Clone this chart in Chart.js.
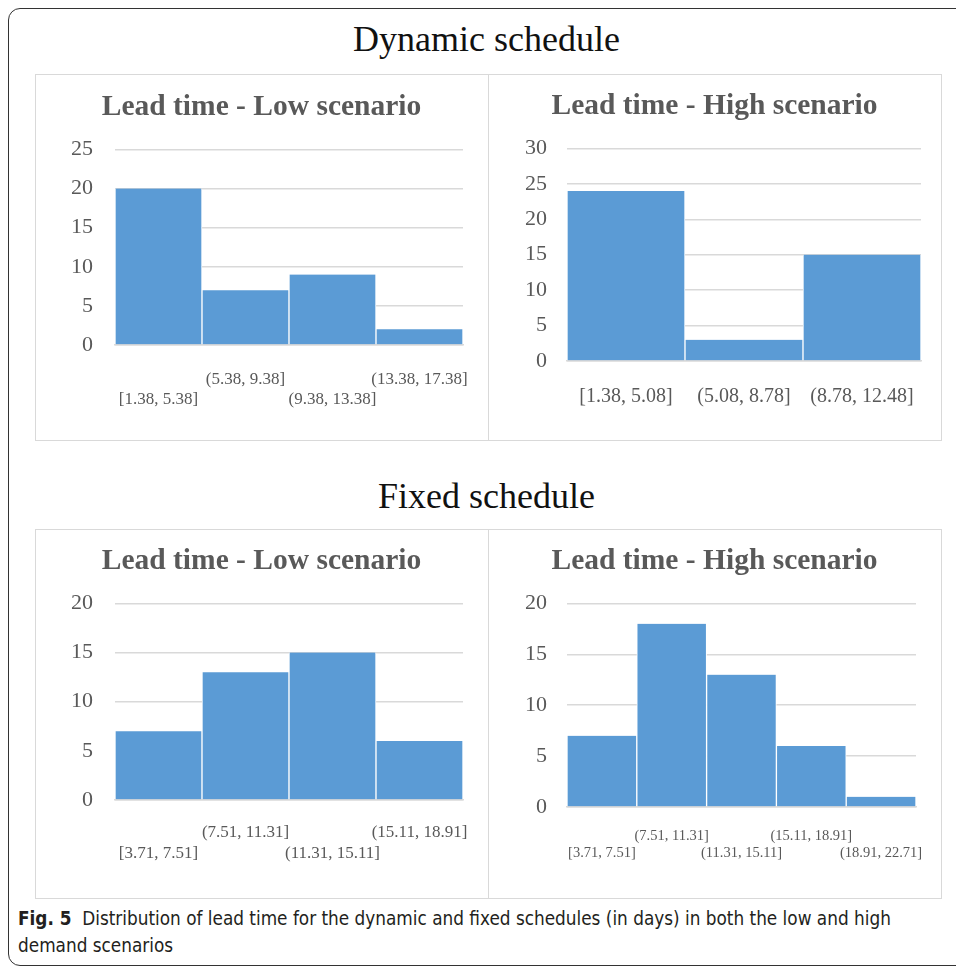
<!DOCTYPE html>
<html>
<head>
<meta charset="utf-8">
<script src="https://cdn.jsdelivr.net/npm/chart.js@4.4.1/dist/chart.umd.min.js"></script>
<style>
    body { margin: 0; background: #fff; width: 956px; height: 966px; overflow: hidden; position: relative; }
    #frame { position: absolute; left: 8px; top: 8px; width: 1000px; height: 956px; border: 1px solid #333; border-radius: 12px; }
    .heading { position: absolute; left: 0; width: 973px; text-align: center; font-family: 'Liberation Serif', serif; font-size: 36px; color: #111; line-height: 42px; }
    .row { position: absolute; left: 35px; width: 905px; border: 1.5px solid #d9d9d9; }
    .divider { position: absolute; left: 452px; top: 0; bottom: 0; border-left: 1.5px solid #d9d9d9; }
    canvas { position: absolute; }
    #caption { position: absolute; left: 18px; top: 905px; font-family: 'DejaVu Sans Condensed', 'DejaVu Sans', sans-serif; font-stretch: condensed; font-size: 18.8px; line-height: 27px; color: #231f20; white-space: nowrap; }
</style>
</head>
<body>
<div id="frame"></div>
<div class="heading" style="top: 18px;">Dynamic schedule</div>
<div class="row" style="top: 74px; height: 365px;"><div class="divider"></div></div>
<div class="heading" style="top: 475px;">Fixed schedule</div>
<div class="row" style="top: 529px; height: 368px;"><div class="divider"></div></div>

<canvas id="dynLow" width="453" height="366" style="left: 35px; top: 74px;"></canvas>
<canvas id="dynHigh" width="453" height="366" style="left: 488px; top: 74px;"></canvas>
<canvas id="fixLow" width="453" height="369" style="left: 35px; top: 529px;"></canvas>
<canvas id="fixHigh" width="453" height="369" style="left: 488px; top: 529px;"></canvas>

<div id="caption"><b>Fig. 5</b>&nbsp; Distribution of lead time for the dynamic and fixed schedules (in days) in both the low and high<br>demand scenarios</div>

<script>
// bins and counts
const dynLowBins = ['[1.38, 5.38]', '(5.38, 9.38]', '(9.38, 13.38]', '(13.38, 17.38]'];
const dynLowCounts = [20, 7, 9, 2];
const dynHighBins = ['[1.38, 5.08]', '(5.08, 8.78]', '(8.78, 12.48]'];
const dynHighCounts = [24, 3, 15];
const fixLowBins = ['[3.71, 7.51]', '(7.51, 11.31]', '(11.31, 15.11]', '(15.11, 18.91]'];
const fixLowCounts = [7, 13, 15, 6];
const fixHighBins = ['[3.71, 7.51]', '(7.51, 11.31]', '(11.31, 15.11]', '(15.11, 18.91]', '(18.91, 22.71]'];
const fixHighCounts = [7, 18, 13, 6, 1];

const lowTitle = 'Lead time - Low scenario';
const highTitle = 'Lead time - High scenario';
const yMaxes = { dynLow: 25, dynHigh: 30, fixLow: 20, fixHigh: 20 };

const grey = '#595959';
const gridGrey = '#d9d9d9';
const barBlue = '#5b9bd5';

function makeHistogram(id, title, bins, counts, cfg) {
    // excel staggers long bin labels on two rows
    let labels = bins.map(function (b, i) {
        if (!cfg.stagger) return b;
        return i % 2 === 0 ? ['', b] : [b, ''];
    });

    new Chart(document.getElementById(id), {
        type: 'bar',
        data: {
            labels: labels,
            datasets: [{
                data: counts,
                backgroundColor: barBlue,
                borderColor: '#ffffff',
                borderWidth: { left: 1, right: 1, top: 0, bottom: 0 },
                barPercentage: 1.0,
                categoryPercentage: 1.0
            }]
        },
        options: {
            responsive: false,
            animation: false,
            layout: { padding: 0 },
            plugins: {
                legend: { display: false },
                tooltip: { enabled: false },
                title: {
                    display: true,
                    text: title,
                    color: grey,
                    font: { family: 'Liberation Serif', size: 29.5, weight: 'bold', lineHeight: 1.2 },
                    padding: { top: cfg.titleTop, bottom: cfg.titleBottom }
                }
            },
            scales: {
                x: {
                    grid: { display: false, drawTicks: false },
                    border: { display: true, color: gridGrey, width: 1.5 },
                    ticks: {
                        color: grey,
                        autoSkip: false,
                        maxRotation: 0,
                        minRotation: 0,
                        padding: cfg.xPad,
                        font: { family: 'Liberation Serif', size: cfg.xFont, lineHeight: cfg.xLine }
                    },
                    afterFit: function (scale) {
                        scale.height = cfg.xHeight;
                        // labels may hang past the plot edges, as in excel
                        scale.paddingLeft = 0;
                        scale.paddingRight = 0;
                    }
                },
                y: {
                    min: 0,
                    max: cfg.yMax,
                    grid: { color: gridGrey, lineWidth: 1.5, drawTicks: false },
                    border: { display: false },
                    ticks: {
                        stepSize: 5,
                        color: grey,
                        padding: cfg.yPad,
                        font: { family: 'Liberation Serif', size: 22 }
                    },
                    afterFit: function (scale) { scale.width = cfg.yWidth; }
                },
                // empty right-hand axis keeps the margin without shifting the title
                yRight: {
                    position: 'right',
                    grid: { display: false, drawTicks: false },
                    border: { display: false },
                    ticks: { display: false },
                    afterFit: function (scale) { scale.width = cfg.right; }
                }
            }
        }
    });
}

makeHistogram('dynLow', lowTitle, dynLowBins, dynLowCounts, {
    stagger: true, right: 25, titleTop: 16, titleBottom: 24, yMax: yMaxes.dynLow,
    xFont: 17, xLine: '20px', xPad: 25, xHeight: 95, yPad: 22, yWidth: 80
});
makeHistogram('dynHigh', highTitle, dynHighBins, dynHighCounts, {
    stagger: false, right: 20, titleTop: 15, titleBottom: 24, yMax: yMaxes.dynHigh,
    xFont: 20, xLine: '22px', xPad: 25, xHeight: 79, yPad: 20, yWidth: 79
});
makeHistogram('fixLow', lowTitle, fixLowBins, fixLowCounts, {
    stagger: true, right: 25, titleTop: 15, titleBottom: 24, yMax: yMaxes.fixLow,
    xFont: 17, xLine: '21px', xPad: 22, xHeight: 98, yPad: 22, yWidth: 80
});
makeHistogram('fixHigh', highTitle, fixHighBins, fixHighCounts, {
    stagger: true, right: 25, titleTop: 15, titleBottom: 24, yMax: yMaxes.fixHigh,
    xFont: 14.5, xLine: '17px', xPad: 21, xHeight: 91, yPad: 20, yWidth: 79
});
</script>
</body>
</html>
